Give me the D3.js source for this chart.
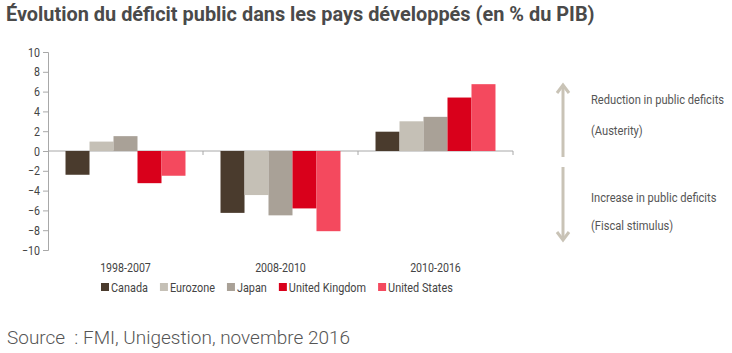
<!DOCTYPE html>
<html>
<head>
<meta charset="utf-8">
<script src="https://cdn.jsdelivr.net/npm/d3@7"></script>
<style>
  body { margin: 0; background: #fff; }
  svg { display: block; }
</style>
</head>
<body>
<div id="wrapper"></div>
<script>
// data
const periods = ["1998-2007", "2008-2010", "2010-2016"]
const countries = ["Canada", "Eurozone", "Japan", "United Kingdom", "United States"]
const canada = [-2.4, -6.25, 1.95]
const eurozone = [0.95, -4.45, 3.0]
const japan = [1.5, -6.5, 3.45]
const unitedKingdom = [-3.25, -5.8, 5.4]
const unitedStates = [-2.5, -8.1, 6.75]
const yTicks = [10, 8, 6, 4, 2, 0, -2, -4, -6, -8, -10]
const colors = ["#4a3b2d", "#c5c0b6", "#a9a197", "#d9001b", "#f4495e"]

const seriesValues = [canada, eurozone, japan, unitedKingdom, unitedStates]
const data = []
periods.forEach((p, i) => {
  countries.forEach((c, j) => data.push({ period: p, country: c, value: seriesValues[j][i] }))
})

const width = 732
const height = 353
const font = "Roboto, 'Liberation Sans', sans-serif"

const svg = d3.select("#wrapper").append("svg")
  .attr("width", width)
  .attr("height", height)

// condensed text helper: scale horizontally around anchor point
function condText(parent, txt, x, y, opts) {
  const k = opts.k || 0.82
  return parent.append("text")
    .attr("transform", `translate(${x},${y}) scale(${k},1)`)
    .attr("font-family", font)
    .attr("font-size", opts.size)
    .attr("font-weight", opts.weight || "normal")
    .attr("fill", opts.fill || "#444")
    .attr("text-anchor", opts.anchor || "start")
    .text(txt)
}

// title
condText(svg, "Évolution du déficit public dans les pays développés (en % du PIB)", 6, 21,
  { size: 21, weight: "bold", fill: "#4a4a4a", k: 0.948 })

// scales
const yScale = d3.scaleLinear().domain([-10, 10]).range([250, 52])
const xScale = d3.scaleBand().domain(periods).range([48, 513]).padding(0)
const innerScale = d3.scaleBand().domain(countries)
  .range([0, xScale.bandwidth()]).paddingInner(0).paddingOuter(0.73)
const colorScale = d3.scaleOrdinal().domain(countries).range(colors)

// zero line
svg.append("line")
  .attr("x1", 48).attr("x2", 513)
  .attr("y1", yScale(0)).attr("y2", yScale(0))
  .attr("stroke", "#a8a8a8").attr("stroke-width", 1)

// category boundary ticks
svg.selectAll(".cat-tick")
  .data(periods)
  .join("line")
  .attr("class", "cat-tick")
  .attr("x1", d => xScale(d) + xScale.bandwidth())
  .attr("x2", d => xScale(d) + xScale.bandwidth())
  .attr("y1", yScale(0)).attr("y2", yScale(0) + 4)
  .attr("stroke", "#a8a8a8")

// bars
svg.selectAll(".bar")
  .data(data)
  .join("rect")
  .attr("class", "bar")
  .attr("x", d => xScale(d.period) + innerScale(d.country))
  .attr("width", innerScale.bandwidth())
  .attr("y", d => yScale(Math.max(0, d.value)))
  .attr("height", d => Math.abs(yScale(d.value) - yScale(0)))
  .attr("fill", d => colorScale(d.country))

// y axis
const yAxis = svg.append("g")
  .attr("transform", "translate(48,0)")
  .call(d3.axisLeft(yScale).tickValues(yTicks).tickSize(5).tickPadding(8).tickFormat(d3.format("d")))
yAxis.select(".domain").attr("stroke", "#a8a8a8")
yAxis.selectAll(".tick line").attr("stroke", "#a8a8a8")
yAxis.selectAll(".tick text")
  .attr("font-family", font)
  .attr("font-size", 12.5)
  .attr("fill", "#444")
  .attr("x", -8 / 0.85)
  .attr("transform", "scale(0.85,1)")

// category labels
periods.forEach(p => {
  condText(svg, p, xScale(p) + xScale.bandwidth() / 2, 272, { size: 12.5, anchor: "middle", k: 0.85 })
})

// legend
let lx = 101
countries.forEach(c => {
  svg.append("rect")
    .attr("x", lx).attr("y", 283)
    .attr("width", 8).attr("height", 8)
    .attr("fill", colorScale(c))
  const t = condText(svg, c, lx + 10, 291.5, { size: 12.5, k: 0.87 })
  const w = t.node().getComputedTextLength() * 0.87
  lx += 10 + w + 12
})

// annotation arrows
const arrowColor = "#c9c3b6"
const ax = 563
const arrows = svg.append("g")
  .attr("stroke", arrowColor).attr("stroke-width", 3).attr("fill", "none")
  .attr("stroke-linecap", "butt")
arrows.append("line").attr("x1", ax).attr("x2", ax).attr("y1", 85).attr("y2", 157)
arrows.append("polyline").attr("points", `${ax - 6},93 ${ax},85 ${ax + 6},93`)
arrows.append("line").attr("x1", ax).attr("x2", ax).attr("y1", 167).attr("y2", 240)
arrows.append("polyline").attr("points", `${ax - 6},232 ${ax},240 ${ax + 6},232`)

const noteOpts = { size: 12.5, k: 0.89, fill: "#555" }
condText(svg, "Reduction in public deficits", 591, 104, noteOpts)
condText(svg, "(Austerity)", 591, 135, noteOpts)
condText(svg, "Increase in public deficits", 591, 202, noteOpts)
condText(svg, "(Fiscal stimulus)", 591, 230, noteOpts)

// source
const src = svg.append("text")
  .attr("x", 7).attr("y", 344)
  .attr("font-family", font)
  .attr("font-size", 18)
  .attr("font-weight", 300)
  .attr("fill", "#555")
  .attr("xml:space", "preserve")
  .text("Source  : FMI, Unigestion, novembre 2016")
src.attr("textLength", 343).attr("lengthAdjust", "spacingAndGlyphs")
</script>
</body>
</html>
